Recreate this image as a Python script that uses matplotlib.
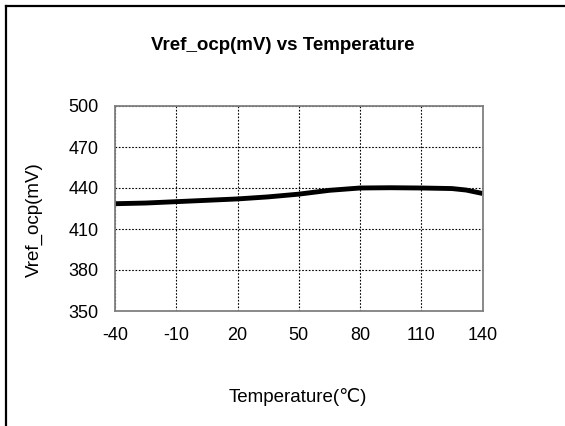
import matplotlib
matplotlib.use('Agg')
import matplotlib.pyplot as plt
from matplotlib.lines import Line2D

plt.rcParams['font.family'] = ['Liberation Sans', 'DejaVu Sans']
plt.rcParams['axes.unicode_minus'] = False

temperature = [-40, -25, -10, 5, 20, 35, 50, 65, 80, 95, 110, 125, 132, 140]
vref_ocp = [428.5, 429.0, 430.0, 431.0, 432.0, 433.5, 435.5, 438.3, 440.0, 440.2, 440.0, 439.6, 438.5, 436.0]
x_ticks = [-40, -10, 20, 50, 80, 110, 140]
y_ticks = [350, 380, 410, 440, 470, 500]

W, H = 565, 426
fig = plt.figure(figsize=(W / 100, H / 100), dpi=100)
ax = fig.add_axes([115 / W, 1 - 311 / H, (482.5 - 115) / W, (311 - 106) / H])

ax.plot(temperature, vref_ocp, color='black', lw=3.5, solid_capstyle='butt')
ax.set_xlim(-40, 140)
ax.set_ylim(350, 500)
ax.set_xticks(x_ticks)
ax.set_yticks(y_ticks)
ax.tick_params(length=0, labelsize=13)
ax.tick_params(axis='x', pad=11.5)
ax.tick_params(axis='y', pad=12)
ax.grid(True, color='black', linestyle=(0, (1.5, 1.5)), lw=0.8)
for s in ax.spines.values():
    s.set_color('#808080')
    s.set_linewidth(1.3)

fig.text(282.5 / W, 1 - 45 / H, 'Vref_ocp(mV) vs Temperature', ha='center', va='center',
         fontsize=13.5, fontweight='bold')
fig.text(298 / W, 1 - 397 / H, 'Temperature(℃)', ha='center', va='center', fontsize=13.5)
fig.text(34 / W, 1 - 220 / H, 'Vref_ocp(mV)', ha='center', va='center', fontsize=13.5, rotation=90)

# outer frame (left and top edges)
fig.add_artist(Line2D([6 / W, 6 / W], [0, 1 - 6 / H], color='black', lw=1.6, transform=fig.transFigure))
fig.add_artist(Line2D([6 / W, 1], [1 - 6 / H, 1 - 6 / H], color='black', lw=1.6, transform=fig.transFigure))

fig.savefig('out.png', dpi=100)
